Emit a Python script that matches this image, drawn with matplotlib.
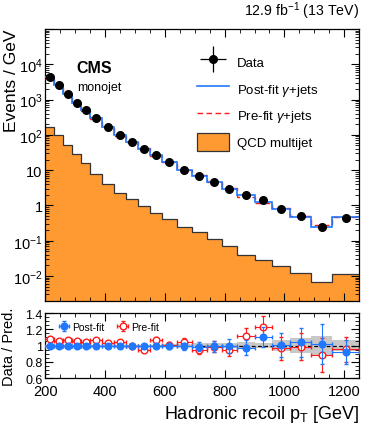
import numpy as np
import matplotlib
matplotlib.use("Agg")
from matplotlib import pyplot as plt
from matplotlib.lines import Line2D
from matplotlib.patches import Patch
from matplotlib.legend_handler import HandlerErrorbar
import matplotlib.ticker as ticker

plt.rcParams["font.family"] = ["Liberation Sans", "DejaVu Sans"]
plt.rcParams["mathtext.fontset"] = "custom"
plt.rcParams["mathtext.rm"] = "Liberation Sans"
plt.rcParams["mathtext.it"] = "Liberation Sans:italic"

# recoil binning [GeV]
edges = [200, 230, 260, 290, 320, 350, 390, 430, 470, 510, 550, 590,
         640, 690, 740, 790, 840, 900, 960, 1020, 1090, 1160, 1250]

# events / GeV
data = [4280, 2590, 1440, 817, 498, 301, 168, 99, 64, 39, 27.5, 17,
        10.3, 6.7, 4.5, 2.93, 1.95, 1.43, 0.80, 0.50, 0.25, 0.44]
data_relerr = [0.003, 0.004, 0.005, 0.006, 0.008, 0.009, 0.012, 0.016, 0.020,
               0.025, 0.030, 0.034, 0.044, 0.055, 0.067, 0.083, 0.092, 0.108,
               0.144, 0.169, 0.239, 0.158]
qcd = [164, 101, 51.8, 27.9, 15.7, 7.8, 4.06, 2.3, 1.53, 0.99, 0.605, 0.415,
       0.241, 0.174, 0.112, 0.0727, 0.0396, 0.0286, 0.0197, 0.0123, 0.00667, 0.0115]

# data / prediction
ratio_post = [1.0, 1.0, 1.0, 1.0, 1.0, 1.0, 1.0, 1.0, 1.0, 0.995, 1.0, 0.99,
              0.99, 0.985, 0.99, 0.995, 0.974, 1.106, 1.01, 1.038, 1.021, 0.919]
ratio_pre = [1.085, 1.06, 1.064, 1.055, 1.038, 1.064, 1.03, 1.047, 1.0, 0.94,
             1.072, 1.008, 1.043, 0.945, 0.987, 0.945, 1.115, 1.23, 0.966,
             0.987, 0.885, 0.953]
band = [0.005, 0.005, 0.005, 0.005, 0.005, 0.006, 0.006, 0.007, 0.008, 0.01,
        0.012, 0.015, 0.02, 0.025, 0.03, 0.035, 0.04, 0.035, 0.07, 0.09,
        0.115, 0.065]

edges_a = np.array(edges, dtype=float)
centers = 0.5 * (edges_a[1:] + edges_a[:-1])
halfw = 0.5 * np.diff(edges_a)
data_a = np.array(data)
post = data_a / np.array(ratio_post)
pre = data_a / np.array(ratio_pre)
derr = data_a * np.array(data_relerr)

orange = "#ff9a33"
blue = "#1f78ff"
red = "#ff1a1a"

fig = plt.figure(figsize=(3.82, 4.31), dpi=100)
ax = fig.add_axes([0.1191, 0.3, 0.8207, 0.6304])
rx = fig.add_axes([0.1191, 0.1206, 0.8207, 0.1508])

# --- top panel
ax.stairs(qcd, edges, baseline=1e-6, fill=True, color=orange, zorder=1)
ax.stairs(qcd, edges, baseline=None, color="#333333", lw=0.9, zorder=2)
ax.stairs(pre, edges, baseline=None, color=red, lw=1.0, ls=(0, (4, 2.5)), zorder=3)
ax.stairs(post, edges, baseline=None, color=blue, lw=1.2, zorder=4)
ax.errorbar(centers, data_a, yerr=derr, fmt="o", color="black", ms=5.5,
            lw=0.9, zorder=5)

ax.set_yscale("log")
ax.set_xlim(200, 1250)
ax.set_ylim(2e-3, 1e5)
ax.yaxis.set_major_locator(ticker.LogLocator(base=10, numticks=20))
ax.yaxis.set_minor_locator(ticker.LogLocator(base=10, subs=np.arange(2, 10), numticks=20))
ax.yaxis.set_minor_formatter(ticker.NullFormatter())

def ylab(v, pos):
    e = int(round(np.log10(v)))
    if e >= 5:
        return ""
    if e == 0:
        return "1"
    if e == 1:
        return "10"
    return r"$10^{%d}$" % e

ax.yaxis.set_major_formatter(ticker.FuncFormatter(ylab))
ax.set_ylabel("Events / GeV", fontsize=12.5, loc="top")
ax.yaxis.set_label_coords(-0.085, 1.0)
ax.tick_params(labelbottom=False)

for a in (ax, rx):
    a.xaxis.set_major_locator(ticker.MultipleLocator(200))
    a.xaxis.set_minor_locator(ticker.MultipleLocator(50))
    a.tick_params(which="both", direction="in", top=True, right=True, labelsize=10.5)
    a.tick_params(which="major", length=6, width=0.8)
    a.tick_params(which="minor", length=3, width=0.6)
    for s in a.spines.values():
        s.set_linewidth(0.9)
ax.tick_params(axis="y", which="major", pad=2)

ax.text(0.1, 0.86, "CMS", transform=ax.transAxes, fontsize=11.5,
        fontweight="bold", va="center")
ax.text(0.1, 0.785, "monojet", transform=ax.transAxes, fontsize=9, va="center")
ax.text(1.0, 1.03, "12.9 fb$^{-1}$ (13 TeV)", transform=ax.transAxes,
        fontsize=10.2, ha="right", va="bottom")

h_data = ax.errorbar([], [], yerr=[], xerr=[], fmt="o", color="black", ms=5.5, lw=0.9)
h_post = Line2D([], [], color=blue, lw=1.2)
h_pre = Line2D([], [], color=red, lw=1.0, ls=(0, (4, 2.5)))
h_qcd = Patch(facecolor=orange, edgecolor="#333333", lw=0.9)
ax.legend([h_data, h_post, h_pre, h_qcd],
          ["Data", r"Post-fit $\gamma$+jets", r"Pre-fit $\gamma$+jets", "QCD multijet"],
          loc="upper left", bbox_to_anchor=(0.483, 0.915), frameon=False,
          fontsize=9.5, handlelength=2.4, handleheight=1.8, labelspacing=0.62,
          borderpad=0, borderaxespad=0, handletextpad=0.6,
          handler_map={type(h_data): HandlerErrorbar(xerr_size=1.0)})

# --- ratio panel
rx.bar(centers, 2 * np.array(band), width=2 * halfw, bottom=1 - np.array(band),
       color="#c8c8c8", lw=0, zorder=1)
rx.axhline(1, color="black", ls=(0, (3, 2)), lw=0.9, zorder=2)
rx.errorbar(centers, ratio_pre, yerr=np.array(ratio_pre) * np.array(data_relerr),
            xerr=halfw, fmt="o", mfc="white", mec=red, color=red, ms=4.8,
            lw=0.8, capsize=1.2, zorder=3, label="Pre-fit")
rx.errorbar(centers, ratio_post, yerr=np.array(ratio_post) * np.array(data_relerr),
            xerr=halfw, fmt="o", color=blue, ms=4.8, lw=0.8, capsize=1.2,
            zorder=4, label="Post-fit")
rx.set_xlim(200, 1250)
rx.set_ylim(0.6, 1.4)
rx.yaxis.set_major_locator(ticker.MultipleLocator(0.2))
rx.yaxis.set_minor_locator(ticker.MultipleLocator(0.05))
rx.yaxis.set_major_formatter(ticker.FuncFormatter(lambda v, p: "%g" % round(v, 2)))
rx.tick_params(axis="y", labelsize=9, pad=2)
rx.tick_params(axis="x", pad=4)
rx.set_ylabel("Data / Pred.", fontsize=10.5)
rx.yaxis.set_label_coords(-0.095, 0.5)
rx.set_xlabel(r"Hadronic recoil p$_{\mathrm{T}}$ [GeV]", fontsize=13, loc="right")
hs, ls = rx.get_legend_handles_labels()
rx.legend(hs[::-1], ls[::-1], loc="upper left", bbox_to_anchor=(0.02, 0.98),
          ncol=2, frameon=False, fontsize=7.5, handlelength=1.0,
          handletextpad=0.3, columnspacing=1.2, borderpad=0.2)

fig.savefig("out.png", dpi=100)
